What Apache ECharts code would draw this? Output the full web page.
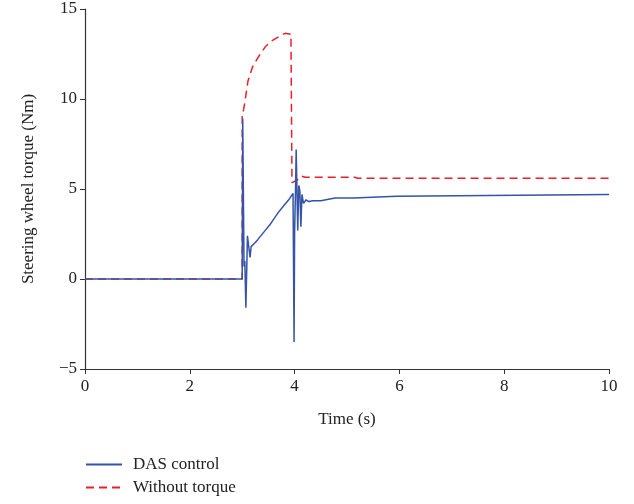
<!DOCTYPE html>
<html>
<head>
<meta charset="utf-8">
<script src="https://cdn.jsdelivr.net/npm/echarts@6/dist/echarts.min.js"></script>
<style>html,body{margin:0;padding:0;background:#fff}#c{width:634px;height:504px}</style>
</head>
<body>
<div id="c"></div>
<script>
var seriesNames = ['DAS control', 'Without torque'];
var xTicks = [0, 2, 4, 6, 8, 10];
var yTicks = [-5, 0, 5, 10, 15];
var dasControl = [
  [0,0],[3.0,0],[3.01,8.9],[3.025,8.8],[3.035,0.7],[3.05,1.0],[3.07,-1.6],[3.09,1.0],[3.1,2.4],[3.12,2.3],
  [3.15,1.2],[3.17,1.8],[3.2,1.9],[3.24,2.0],[3.3,2.2],[3.44,2.7],[3.55,3.1],[3.69,3.7],[3.8,4.1],
  [3.9,4.45],[3.97,4.75],[3.99,-3.5],[4.0,2.6],[4.02,5.3],[4.03,7.2],[4.05,7.2],[4.06,2.7],[4.08,5.2],
  [4.1,4.9],[4.12,2.9],[4.14,4.7],[4.17,4.2],[4.22,4.4],[4.27,4.3],[4.35,4.35],[4.5,4.35],[4.52,4.45],
  [4.77,4.5],[5.13,4.5],[5.15,4.6],[5.95,4.6],[5.97,4.7],[10,4.7]
];
var withoutTorque = [
  [0,0],[3.0,0],[3.0,9.0],[3.05,9.8],[3.11,11.0],[3.2,11.8],[3.3,12.3],[3.44,12.9],[3.55,13.2],
  [3.72,13.5],[3.82,13.65],[3.93,13.6],[3.95,5.35],[4.05,5.5],[4.13,5.72],[4.2,5.65],[5.15,5.65],
  [5.2,5.6],[10,5.6]
];
var font = 'Liberation Serif';
var axisColor = '#333';
var blue = '#3554a8';
var red = '#e8202a';
var chart = echarts.init(document.getElementById('c'));
chart.setOption({
  animation: false,
  grid: {left: 85, right: 25, top: 9, bottom: 135},
  xAxis: {
    type: 'value', min: xTicks[0], max: xTicks[xTicks.length-1], interval: 2,
    name: 'Time (s)', nameLocation: 'middle', nameGap: 42,
    nameTextStyle: {fontFamily: font, fontSize: 17, color: '#222'},
    axisLine: {onZero: false, lineStyle: {color: axisColor, width: 1.2}},
    axisTick: {show: true, length: 5, lineStyle: {color: axisColor}},
    axisLabel: {fontFamily: font, fontSize: 17, color: '#222', margin: 9},
    splitLine: {show: false}
  },
  yAxis: {
    type: 'value', min: yTicks[0], max: yTicks[yTicks.length-1], interval: 5,
    name: 'Steering wheel torque (Nm)', nameLocation: 'middle', nameGap: 48, nameRotate: 90,
    nameTextStyle: {fontFamily: font, fontSize: 17, color: '#222'},
    axisLine: {onZero: false, lineStyle: {color: axisColor, width: 1.2}},
    axisTick: {show: true, length: 5, lineStyle: {color: axisColor}},
    axisLabel: {fontFamily: font, fontSize: 17, color: '#222', margin: 8,
      formatter: function(v){ return String(v).replace('-', '\u2212'); }},
    splitLine: {show: false}
  },
  legend: {
    orient: 'vertical', left: 80, top: 451, itemWidth: 36, itemHeight: 12, itemGap: 6,
    itemStyle: {opacity: 0},
    textStyle: {fontFamily: font, fontSize: 17, color: '#222', padding: [0,0,0,6]},
    data: seriesNames
  },
  series: [
    {name: seriesNames[0], type: 'line', data: dasControl, symbol: 'none', z: 4,
     lineStyle: {color: blue, width: 1.5}, itemStyle: {color: blue}},
    {name: seriesNames[1], type: 'line', data: withoutTorque, symbol: 'none', z: 3,
     lineStyle: {color: red, width: 1.5, type: [8, 5]}, itemStyle: {color: red}}
  ]
});
</script>
</body>
</html>
